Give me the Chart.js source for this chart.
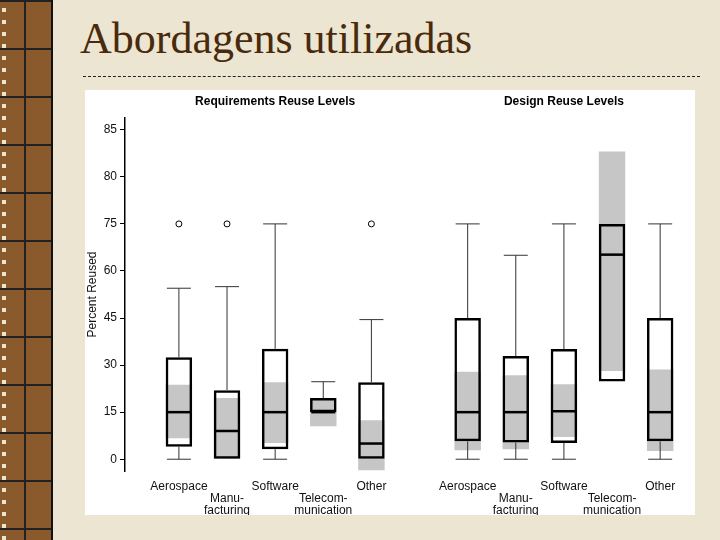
<!DOCTYPE html>
<html><head><meta charset="utf-8">
<script src="https://cdn.jsdelivr.net/npm/chart.js@4/dist/chart.umd.min.js"></script>
<style>
html,body{margin:0;padding:0;width:720px;height:540px;overflow:hidden;background:#ebe5d1;}
#strip{position:absolute;left:0;top:0;width:51px;height:540px;border-right:2px solid #111;
background-color:#8a5a2c;
background-image:linear-gradient(90deg,transparent 24px,#222 24px,#222 26px,transparent 26px),
linear-gradient(0deg,transparent 46px,#222 46px,#222 48px,transparent 48px);
background-size:51px 48px;}
#strip:before{content:"";position:absolute;left:2px;top:0;width:4px;height:540px;
background-image:linear-gradient(0deg,#ebe5d1 0 4px,transparent 4px);background-size:4px 12px;}
#title{position:absolute;left:80px;top:13px;font-family:"Liberation Serif","DejaVu Serif",serif;font-size:44px;color:#4a2a0c;}
#dash{position:absolute;left:83px;top:76px;width:617px;height:0;border-top:1.5px dashed #222;}
#wrap{position:absolute;left:85px;top:90px;width:610px;height:425px;background:#fff;}
</style></head><body>
<div id="strip"></div>
<div id="title">Abordagens utilizadas</div>
<div id="dash"></div>
<div id="wrap"><canvas id="c" width="610" height="425"></canvas></div>
<script>
const categories=[['Aerospace'],['','Manu-','facturing'],['Software'],['','Telecom-','munication'],['Other']];
const tickLabels=['0','15','30','45','60','75','80','85'];
const panelTitles=['Requirements Reuse Levels','Design Reuse Levels'];
// requirements
const reqLow=[0,null,0,null,null];
const reqQ1=[4,0,3.2,15,0];
const reqMed=[15,9,15,15,5];
const reqQ3=[32.5,22,35.2,19.5,24.5];
const reqHigh=[54.5,55,75,24.7,44.5];
const reqBandLo=[6.7,0,5.2,10.5,-3.5];
const reqBandHi=[23.7,19.5,24.5,19.5,12.4];
const reqOut=[75,75,null,null,75];
// design
const desLow=[0,0,0,null,0];
const desQ1=[5.7,5.3,5.2,24.8,5.7];
const desMed=[15,15,15.3,65.2,15];
const desQ3=[45,32.9,35.1,75,45];
const desHigh=[75,65,75,null,75];
const desBandLo=[2.9,3.2,7.1,28.1,2.6];
const desBandHi=[27.9,26.8,23.9,82.7,28.6];
const desOut=[null,null,null,null,null];

// axis is piecewise: 0..75 in steps of 15, then 75..85 in steps of 5
const pos=v=>v==null?null:(v<=75?v/15:5+(v-75)/5);
const xs=[0,1,2,3,4,6,7,8,9,10];
const all=(a,b)=>a.concat(b);
const mk=(lo,hi)=>xs.map((x,i)=>({x:x,y:[pos(lo[i]),pos(hi[i])]}));
const Q1=all(reqQ1,desQ1),Q3=all(reqQ3,desQ3),MED=all(reqMed,desMed),LOW=all(reqLow,desLow),HIGH=all(reqHigh,desHigh),OUT=all(reqOut,desOut);
const BL=all(reqBandLo,desBandLo),BH=all(reqBandHi,desBandHi);
const labelAt={};xs.forEach((x,i)=>labelAt[x]=categories[i%5]);

const extras={id:'extras',
 afterDatasetsDraw(ch){
  const c=ch.ctx,X=ch.scales.x,Y=ch.scales.y,half=12,cap=12;
  c.save();
  xs.forEach((x,i)=>{
   const px=X.getPixelForValue(x);
   c.strokeStyle='#333';c.lineWidth=1;
   if(HIGH[i]!=null){const a=Y.getPixelForValue(pos(Q3[i])),b=Y.getPixelForValue(pos(HIGH[i]));
     c.beginPath();c.moveTo(px,a);c.lineTo(px,b);c.moveTo(px-cap,b);c.lineTo(px+cap,b);c.stroke();}
   if(LOW[i]!=null){const a=Y.getPixelForValue(pos(Q1[i])),b=Y.getPixelForValue(pos(LOW[i]));
     c.beginPath();c.moveTo(px,a);c.lineTo(px,b);c.moveTo(px-cap,b);c.lineTo(px+cap,b);c.stroke();}
   const m=Y.getPixelForValue(pos(MED[i]));
   c.strokeStyle='#000';c.lineWidth=2.5;c.beginPath();c.moveTo(px-half,m);c.lineTo(px+half,m);c.stroke();
   if(OUT[i]!=null){const o=Y.getPixelForValue(pos(OUT[i]));c.lineWidth=1;c.beginPath();c.arc(px,o,3,0,Math.PI*2);c.stroke();}
  });
  c.fillStyle='#000';c.font='bold 12px "Liberation Sans",Arial,sans-serif';c.textAlign='center';
  c.fillText(panelTitles[0],X.getPixelForValue(2),15);
  c.fillText(panelTitles[1],X.getPixelForValue(8),15);
  c.restore();
 }};

new Chart(document.getElementById('c'),{
 type:'bar',
 data:{datasets:[
  {data:mk(Q1,Q3),backgroundColor:'transparent',borderColor:'#000',borderWidth:2.5,borderSkipped:false,order:1,grouped:false,barPercentage:0.55,categoryPercentage:1},
  {data:mk(BL,BH),backgroundColor:'#c6c6c6',borderWidth:0,order:2,grouped:false,barPercentage:0.55,categoryPercentage:1},
  {data:mk(Q1,Q3),backgroundColor:'#fff',borderWidth:0,order:3,grouped:false,barPercentage:0.55,categoryPercentage:1}
 ]},
 options:{responsive:false,animation:false,
  layout:{padding:{left:0,right:5,top:28,bottom:0}},
  plugins:{legend:{display:false},tooltip:{enabled:false}},
  scales:{
   x:{type:'linear',min:-1.12,max:10.62,offset:false,
     afterFit(s){s.height=44;},
     grid:{display:false},border:{display:false},
     afterBuildTicks(s){s.ticks=xs.map(v=>({value:v}));},
     ticks:{autoSkip:false,maxRotation:0,padding:2,color:'#111',font:{family:'"Liberation Sans",Arial,sans-serif',size:12,lineHeight:1.0},callback:v=>labelAt[v]||''}},
   y:{min:-0.25,max:7.25,
     afterFit(s){s.width=40;},
     afterBuildTicks(s){s.ticks=tickLabels.map((t,i)=>({value:i}));},
     grid:{drawOnChartArea:false,tickLength:5,color:'#000'},border:{color:'#000',width:1.5},
     ticks:{padding:3,color:'#111',font:{family:'"Liberation Sans",Arial,sans-serif',size:12},callback:(v)=>tickLabels[v]},
     title:{display:true,text:'Percent Reused',color:'#111',padding:0,font:{family:'"Liberation Sans",Arial,sans-serif',size:12}}}
  }},
 plugins:[extras]
});
</script></body></html>
